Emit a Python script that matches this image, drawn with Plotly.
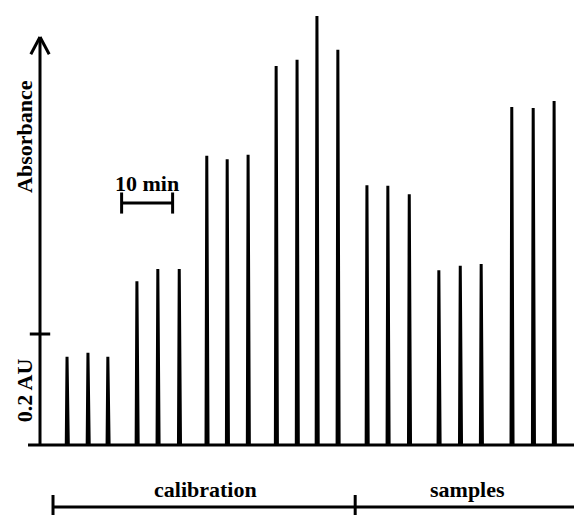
import plotly.graph_objects as go

# ---- data (time in min, absorbance in AU) ----
peak_times = [5.3, 9.4, 13.3, 19.0, 23.1, 27.3, 32.7, 36.7, 40.8, 46.3, 50.4,
              54.3, 58.4, 64.1, 68.2, 72.4, 78.2, 82.4, 86.5, 92.5, 96.7, 100.8]
peak_heights = [0.159, 0.166, 0.159, 0.295, 0.317, 0.317, 0.521, 0.515, 0.523,
                0.683, 0.694, 0.773, 0.712, 0.468, 0.467, 0.452, 0.315, 0.323,
                0.326, 0.609, 0.607, 0.620]
y_label = "Absorbance"
tick_label = "0.2 AU"
tick_value = 0.2
scale_bar_label = "10 min"
scale_bar_start = 16.0
scale_bar_len = 10.0
segments = ["calibration", "samples"]
segment_centers = [32.4, 83.9]
segment_bounds = [2.55, 61.8, 106.1]

t_start, t_end = -2.35, 106.4
# page has an 8px body margin; figure is sized/ranged to compensate
x_range = [-6.275, 106.27]
y_range = [-0.1261, 0.7874]

# ---- build trace ----
xs, ys = [t_start], [0.0]
for t, h in zip(peak_times, peak_heights):
    xs += [t - 0.15, t, t + 0.25]
    ys += [0.0, h, 0.0]
xs.append(t_end)
ys.append(0.0)

FONT = dict(family="Liberation Serif, Times New Roman, serif", size=22, color="black")
LW = 3

fig = go.Figure()
fig.add_trace(go.Scatter(x=xs, y=ys, mode="lines",
                         line=dict(color="black", width=LW), hoverinfo="skip",
                         showlegend=False))

shapes = []
def seg(x0, y0, x1, y1, w=LW):
    shapes.append(dict(type="line", xref="x", yref="y", x0=x0, y0=y0, x1=x1, y1=y1,
                       line=dict(color="black", width=w)))

# y axis with arrow
axis_top = 0.735
seg(0, 0, 0, axis_top)
seg(-1.8, axis_top - 0.031, 0, axis_top)
seg(1.8, axis_top - 0.031, 0, axis_top)
# 0.2 AU tick
seg(-2.0, tick_value, 2.0, tick_value)
# scale bar
sb_y = 0.436
seg(scale_bar_start, sb_y, scale_bar_start + scale_bar_len, sb_y)
seg(scale_bar_start, sb_y - 0.019, scale_bar_start, sb_y + 0.019)
seg(scale_bar_start + scale_bar_len, sb_y - 0.019, scale_bar_start + scale_bar_len, sb_y + 0.019)
# bottom bracket
br_y = -0.1117
seg(segment_bounds[0], br_y, segment_bounds[-1], br_y)
for b in segment_bounds:
    seg(b, -0.0901, b, -0.1261)

annotations = [
    dict(x=-2.94, y=0.555, text=f"<b>{y_label}</b>", textangle=-90),
    dict(x=-3.1, y=0.099, text=f"<b>{tick_label}</b>", textangle=-90),
    dict(x=scale_bar_start + scale_bar_len / 2, y=0.472, text=f"<b>{scale_bar_label}</b>"),
]
for cx, name in zip(segment_centers, segments):
    annotations.append(dict(x=cx, y=-0.081, text=f"<b>{name}</b>"))
for a in annotations:
    a.update(xref="x", yref="y", showarrow=False, font=FONT,
             xanchor="center", yanchor="middle")

fig.update_layout(
    width=574, height=507,
    margin=dict(l=0, r=0, t=0, b=0),
    paper_bgcolor="white", plot_bgcolor="white",
    xaxis=dict(range=x_range, visible=False, fixedrange=True),
    yaxis=dict(range=y_range, visible=False, fixedrange=True),
    shapes=shapes, annotations=annotations,
)

fig.write_html("out.html")
